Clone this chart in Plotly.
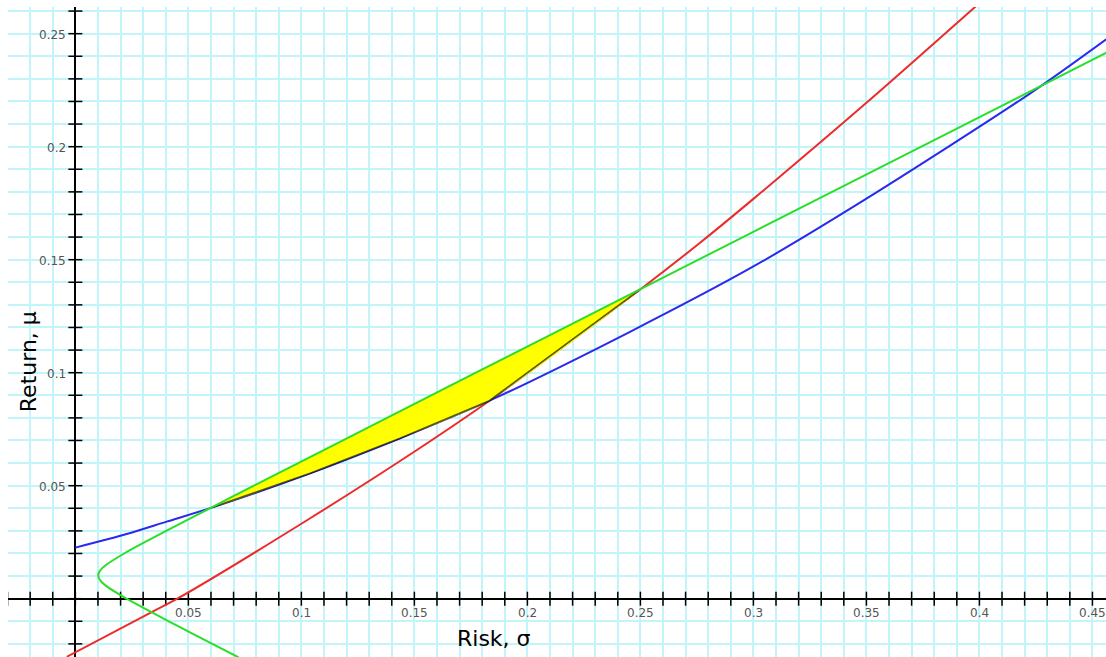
import plotly.graph_objects as go

# ---- data (sigma = risk, mu = return) ----
green_sigma = [0.0723, 0.0606, 0.0509, 0.0413, 0.0318, 0.0227, 0.0145, 0.0111, 0.0101, 0.0110,
               0.0137, 0.0216, 0.0307, 0.0402, 0.0595, 0.0790, 0.0986, 0.1379, 0.1772, 0.2363,
               0.2954, 0.3743, 0.4630]
green_mu = [-0.026, -0.020, -0.015, -0.010, -0.005, 0.000, 0.005, 0.008, 0.0103, 0.0125,
            0.015, 0.020, 0.025, 0.030, 0.040, 0.050, 0.060, 0.080, 0.100, 0.130,
            0.160, 0.200, 0.245]

red_sigma = [-0.0038, 0.0342, 0.0451, 0.1039, 0.1511, 0.1832, 0.2496, 0.2764, 0.3000, 0.3500, 0.3985]
red_mu = [-0.0257, -0.0057, 0.0000, 0.0356, 0.0658, 0.0876, 0.1366, 0.1575, 0.1769, 0.2194, 0.2622]

blue_sigma = [0.0000, 0.0227, 0.0404, 0.0604, 0.1039, 0.1437, 0.1832, 0.2454, 0.3000, 0.3500, 0.4225, 0.4561]
blue_mu = [0.0226, 0.0286, 0.0341, 0.0403, 0.0555, 0.0710, 0.0876, 0.1181, 0.1470, 0.1770, 0.2236, 0.2475]

# shaded region: upper edge (green) then lower edge (red, blue) back
region_top_sigma = [0.0604, 0.0790, 0.0986, 0.1379, 0.1772, 0.2363, 0.2496]
region_top_mu = [0.0403, 0.0500, 0.0600, 0.0800, 0.1000, 0.1300, 0.1366]
region_bottom_sigma = [0.2496, 0.1832, 0.1437, 0.1039, 0.0604]
region_bottom_mu = [0.1366, 0.0876, 0.0710, 0.0555, 0.0403]

x_label_values = [0.05, 0.10, 0.15, 0.20, 0.25, 0.30, 0.35, 0.40, 0.45]
x_label_texts = ["0.05", "0.1", "0.15", "0.2", "0.25", "0.3", "0.35", "0.4", "0.45"]
y_label_values = [0.05, 0.10, 0.15, 0.20, 0.25]
y_label_texts = ["0.05", "0.1", "0.15", "0.2", "0.25"]
x_minor_ticks = [round(i * 0.01, 2) for i in range(-3, 46)]
y_minor_ticks = [round(i * 0.01, 2) for i in range(-2, 27)]

X_RANGE = [-0.0298, 0.4560]
Y_RANGE = [-0.0258, 0.2618]
FONT = "DejaVu Sans"

fig = go.Figure()

# axis tick marks (crossing the axes)
fig.add_trace(go.Scatter(
    x=x_minor_ticks, y=[0] * len(x_minor_ticks), mode="markers",
    marker=dict(symbol="line-ns", size=10, line=dict(color="black", width=1.5)),
    hoverinfo="skip", showlegend=False))
fig.add_trace(go.Scatter(
    x=[0] * len(y_minor_ticks), y=y_minor_ticks, mode="markers",
    marker=dict(symbol="line-ew", size=10, line=dict(color="black", width=1.5)),
    hoverinfo="skip", showlegend=False))

# curves
fig.add_trace(go.Scatter(x=red_sigma, y=red_mu, mode="lines",
                         line=dict(color="#ee2a2a", width=2, shape="spline", smoothing=0.8),
                         showlegend=False))
fig.add_trace(go.Scatter(x=blue_sigma, y=blue_mu, mode="lines",
                         line=dict(color="#2a2aee", width=2, shape="spline", smoothing=0.8),
                         showlegend=False))

# yellow region
fig.add_trace(go.Scatter(x=region_top_sigma + region_bottom_sigma[1:],
                         y=region_top_mu + region_bottom_mu[1:],
                         mode="lines", fill="toself", fillcolor="#ffff00",
                         line=dict(color="rgba(0,0,0,0)", width=0, shape="spline", smoothing=0.5),
                         showlegend=False, hoverinfo="skip"))
fig.add_trace(go.Scatter(x=region_bottom_sigma, y=region_bottom_mu, mode="lines",
                         line=dict(color="rgba(0,0,0,0.65)", width=1.6),
                         showlegend=False, hoverinfo="skip"))

fig.add_trace(go.Scatter(x=green_sigma, y=green_mu, mode="lines",
                         line=dict(color="#2ade2a", width=2, shape="spline", smoothing=0.8),
                         showlegend=False))

annotations = []
for v, t in zip(x_label_values, x_label_texts):
    annotations.append(dict(x=v, y=0, xref="x", yref="y", text=t, showarrow=False,
                            xanchor="center", yanchor="middle", yshift=-14,
                            font=dict(family=FONT, size=12, color="#555555")))
for v, t in zip(y_label_values, y_label_texts):
    annotations.append(dict(x=0, y=v, xref="x", yref="y", text=t, showarrow=False,
                            xanchor="right", yanchor="middle", xshift=-7, yshift=-1,
                            font=dict(family=FONT, size=12, color="#555555")))
annotations.append(dict(x=0.1853, y=-0.0178, xref="x", yref="y", text="Risk, σ",
                        showarrow=False, xanchor="center", yanchor="middle",
                        font=dict(family=FONT, size=22, color="black")))
annotations.append(dict(x=-0.0209, y=0.1047, xref="x", yref="y", text="Return, μ",
                        showarrow=False, xanchor="center", yanchor="middle", textangle=-90,
                        font=dict(family=FONT, size=22, color="black")))

grid_color = "#c2f5fa"
fig.update_layout(
    width=1106, height=657,
    margin=dict(l=8, r=0, t=7, b=0),
    paper_bgcolor="white", plot_bgcolor="white",
    annotations=annotations,
    xaxis=dict(range=X_RANGE, showgrid=True, gridcolor=grid_color, gridwidth=1.5,
               dtick=0.01, tick0=0, showticklabels=False, ticks="",
               zeroline=True, zerolinecolor="black", zerolinewidth=1.6, showline=False,
               fixedrange=True),
    yaxis=dict(range=Y_RANGE, showgrid=True, gridcolor=grid_color, gridwidth=1.5,
               dtick=0.01, tick0=0, showticklabels=False, ticks="",
               zeroline=True, zerolinecolor="black", zerolinewidth=1.6, showline=False,
               fixedrange=True),
)

fig.write_html("out.html", config={"displayModeBar": False},
               post_script="document.body.style.margin='0px';document.body.style.overflow='hidden';")
